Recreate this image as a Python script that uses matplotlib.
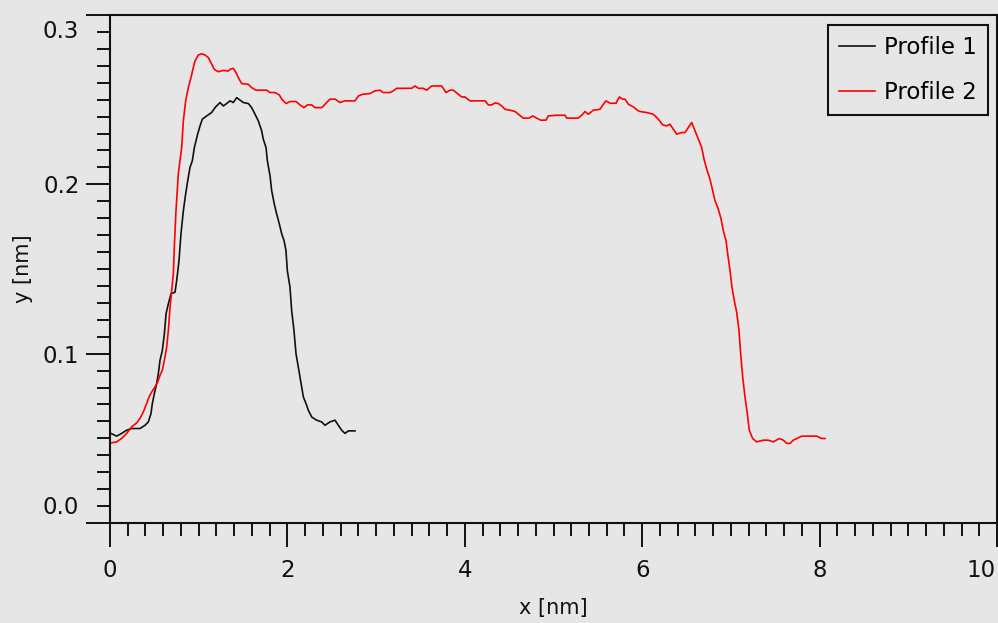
import matplotlib
matplotlib.use("Agg")
import matplotlib.pyplot as plt
from matplotlib.ticker import FixedLocator, MultipleLocator, FixedFormatter
from matplotlib.transforms import offset_copy

# ---- data ----
p1_x = [0.011, 0.075, 0.131, 0.188, 0.244, 0.338, 0.395, 0.432, 0.462, 0.477, 0.500, 0.526,
        0.545, 0.564, 0.590, 0.613, 0.632, 0.658, 0.688, 0.733, 0.752, 0.778, 0.800, 0.827,
        0.853, 0.876, 0.902, 0.928, 0.951, 0.988, 1.015, 1.041, 1.090, 1.146, 1.184, 1.240,
        1.278, 1.315, 1.353, 1.390, 1.428, 1.503, 1.560, 1.597, 1.635, 1.672, 1.710, 1.728,
        1.759, 1.774, 1.804, 1.823, 1.852, 1.879, 1.909, 1.936, 1.962, 1.984, 1.999, 2.029,
        2.048, 2.074, 2.097, 2.123, 2.142, 2.161, 2.180, 2.210, 2.236, 2.274, 2.330, 2.387,
        2.424, 2.480, 2.537, 2.574, 2.612, 2.649, 2.687, 2.762]
p1_y = [0.0529, 0.0513, 0.0529, 0.0548, 0.0558, 0.0558, 0.0577, 0.0597, 0.0646, 0.0705, 0.0764, 0.0823,
        0.0882, 0.0961, 0.1019, 0.1118, 0.1236, 0.1295, 0.1354, 0.1363, 0.1432, 0.1550, 0.1707, 0.1844,
        0.1943, 0.2021, 0.2100, 0.2139, 0.2217, 0.2296, 0.2345, 0.2385, 0.2404, 0.2424, 0.2453, 0.2483,
        0.2463, 0.2477, 0.2493, 0.2483, 0.2512, 0.2483, 0.2477, 0.2453, 0.2414, 0.2375, 0.2316, 0.2267,
        0.2217, 0.2139, 0.2051, 0.1962, 0.1884, 0.1825, 0.1766, 0.1707, 0.1668, 0.1609, 0.1491, 0.1393,
        0.1255, 0.1137, 0.1000, 0.0921, 0.0862, 0.0803, 0.0744, 0.0705, 0.0666, 0.0626, 0.0607, 0.0597,
        0.0577, 0.0597, 0.0607, 0.0577, 0.0548, 0.0529, 0.0544, 0.0544]

p2_x = [0.011, 0.075, 0.131, 0.188, 0.244, 0.301, 0.338, 0.376, 0.413, 0.440, 0.470, 0.507,
        0.537, 0.564, 0.590, 0.613, 0.639, 0.658, 0.677, 0.695, 0.714, 0.725, 0.744, 0.770,
        0.808, 0.827, 0.853, 0.883, 0.913, 0.939, 0.958, 0.996, 1.034, 1.071, 1.109, 1.139,
        1.176, 1.221, 1.278, 1.334,
        1.353, 1.390, 1.421, 1.447, 1.484, 1.560, 1.597, 1.646, 1.766, 1.804, 1.860, 1.909,
        1.936, 1.984, 2.029, 2.097, 2.142, 2.187, 2.225, 2.274, 2.311, 2.387, 2.443, 2.480,
        2.537, 2.593, 2.649, 2.762, 2.800, 2.849, 2.931, 2.988, 3.044, 3.081, 3.157, 3.194,
        3.232, 3.401, 3.439, 3.476, 3.532, 3.570, 3.627, 3.740, 3.788, 3.833, 3.870, 3.927,
        3.965, 4.002, 4.059, 4.171,
        4.228, 4.265, 4.303, 4.340, 4.378, 4.416, 4.453, 4.510, 4.566, 4.603, 4.660, 4.727,
        4.765, 4.810, 4.855, 4.915, 4.941, 5.036, 5.130, 5.149, 5.280, 5.318, 5.355, 5.393,
        5.449, 5.524, 5.562, 5.592, 5.637, 5.705, 5.742, 5.780, 5.806, 5.844, 5.900, 5.956,
        5.975, 6.051, 6.125, 6.182, 6.231, 6.276, 6.313, 6.351, 6.389, 6.445, 6.482, 6.520,
        6.558, 6.595, 6.633, 6.671, 6.697, 6.727, 6.764, 6.795, 6.821, 6.858, 6.889, 6.914,
        6.945, 6.964, 6.990, 7.012, 7.038, 7.065, 7.091, 7.110, 7.133, 7.159, 7.185, 7.207,
        7.245, 7.290, 7.365, 7.422, 7.478, 7.546, 7.591, 7.629, 7.666, 7.703, 7.742, 7.798,
        7.967, 8.023, 8.061]
p2_y = [0.0473, 0.0479, 0.0499, 0.0529, 0.0568, 0.0591, 0.0617, 0.0656, 0.0705, 0.0744, 0.0774, 0.0803,
        0.0833, 0.0872, 0.0902, 0.0961, 0.1039, 0.1137, 0.1275, 0.1373, 0.1471, 0.1628, 0.1844, 0.2061,
        0.2217, 0.2375, 0.2493, 0.2571, 0.2630, 0.2689, 0.2728, 0.2764, 0.2771, 0.2764, 0.2748, 0.2718,
        0.2679, 0.2665, 0.2673, 0.2669,
        0.2679, 0.2685, 0.2660, 0.2630, 0.2595, 0.2591, 0.2571, 0.2556, 0.2556, 0.2542, 0.2542, 0.2528,
        0.2503, 0.2477, 0.2489, 0.2489, 0.2469, 0.2453, 0.2469, 0.2469, 0.2453, 0.2453, 0.2483, 0.2503,
        0.2503, 0.2483, 0.2493, 0.2493, 0.2522, 0.2532, 0.2536, 0.2552, 0.2556, 0.2542, 0.2542, 0.2552,
        0.2567, 0.2567, 0.2581, 0.2567, 0.2567, 0.2556, 0.2581, 0.2581, 0.2542, 0.2556, 0.2556, 0.2532,
        0.2516, 0.2516, 0.2493, 0.2493,
        0.2493, 0.2469, 0.2469, 0.2481, 0.2477, 0.2463, 0.2443, 0.2438, 0.2430, 0.2414, 0.2391, 0.2391,
        0.2404, 0.2391, 0.2379, 0.2379, 0.2404, 0.2408, 0.2408, 0.2391, 0.2391, 0.2408, 0.2430, 0.2414,
        0.2438, 0.2443, 0.2473, 0.2493, 0.2479, 0.2479, 0.2516, 0.2503, 0.2503, 0.2473, 0.2457, 0.2434,
        0.2430, 0.2424, 0.2414, 0.2385, 0.2351, 0.2345, 0.2355, 0.2326, 0.2296, 0.2306, 0.2306, 0.2335,
        0.2365, 0.2316, 0.2267, 0.2217, 0.2149, 0.2090, 0.2031, 0.1962, 0.1903, 0.1854, 0.1796, 0.1727,
        0.1668, 0.1589, 0.1491, 0.1393, 0.1314, 0.1245, 0.1137, 0.1000, 0.0862, 0.0744, 0.0646, 0.0548,
        0.0499, 0.0479, 0.0489, 0.0489, 0.0479, 0.0499, 0.0489, 0.0470, 0.0470, 0.0489, 0.0499, 0.0513,
        0.0513, 0.0499, 0.0499]

series_labels = ["Profile 1", "Profile 2"]
x_ticks = [0, 2, 4, 6, 8, 10]
x_ticklabels = ["0", "2", "4", "6", "8", "10"]
y_ticks = [0.0, 0.1, 0.2, 0.3]
y_ticklabels = ["0.0", "0.1", "0.2", "0.3"]
x_label = "x [nm]"
y_label = "y [nm]"

# ---- figure ----
W, H, DPI = 998, 623, 100
BG = "#e6e6e6"
FS = 16.5      # tick labels / legend
FS_LAB = 15    # axis titles
INK = "#111111"
plt.rcParams["font.family"] = ["DejaVu Sans"]

fig = plt.figure(figsize=(W / DPI, H / DPI), dpi=DPI, facecolor=BG)
L, R, T, B = 110, 997, 15, 523
ax = fig.add_axes([L / W, 1 - B / H, (R - L) / W, (B - T) / H], facecolor=BG)

ax.plot(p1_x, p1_y, color="#111111", lw=1.2, label=series_labels[0])
ax.plot(p2_x, p2_y, color="#ff0000", lw=1.2, label=series_labels[1])

ax.set_xlim(0, 10)
ax.set_ylim(0, 0.3)

for s in ax.spines.values():
    s.set_linewidth(1.5)
    s.set_color(INK)

ax.xaxis.set_major_locator(FixedLocator(x_ticks))
ax.xaxis.set_minor_locator(MultipleLocator(0.2))
ax.yaxis.set_major_locator(FixedLocator(y_ticks))
ax.yaxis.set_minor_locator(MultipleLocator(0.01))

# end labels are drawn separately (shifted inward like the original software)
ax.xaxis.set_major_formatter(FixedFormatter(x_ticklabels[:-1] + [""]))
ax.yaxis.set_major_formatter(FixedFormatter([""] + y_ticklabels[1:-1] + [""]))

ax.tick_params(which="major", direction="out", length=17, width=1.4, color=INK,
               labelsize=FS, labelcolor=INK)
ax.tick_params(which="minor", direction="out", length=9.5, width=1.4, color=INK)
ax.tick_params(axis="x", which="major", pad=9)
ax.tick_params(axis="y", which="major", pad=5)

ytr = ax.get_yaxis_transform()
xtr = ax.get_xaxis_transform()
ax.text(0, y_ticks[0], y_ticklabels[0], transform=offset_copy(ytr, fig, x=-31, y=16, units="dots"),
        ha="right", va="center", fontsize=FS, color=INK)
ax.text(0, y_ticks[-1], y_ticklabels[-1], transform=offset_copy(ytr, fig, x=-31, y=-17, units="dots"),
        ha="right", va="center", fontsize=FS, color=INK)
ax.text(x_ticks[-1], 0, x_ticklabels[-1], transform=offset_copy(xtr, fig, x=-16, y=-36, units="dots"),
        ha="center", va="top", fontsize=FS, color=INK)

ax.set_xlabel(x_label, fontsize=FS_LAB, color=INK, va="center")
ax.set_ylabel(y_label, fontsize=FS_LAB, color=INK, va="center")
ax.xaxis.set_label_coords(0.5, (B - 608) / (B - T))
ax.yaxis.set_label_coords((23 - L) / (R - L), 0.5)

leg = ax.legend(loc="upper right", bbox_to_anchor=((988 - L) / (R - L), (B - 25) / (B - T)),
                fontsize=FS, frameon=True, fancybox=False, facecolor=BG, edgecolor=INK,
                framealpha=1, handlelength=1.53, handletextpad=0.4, borderpad=0.5,
                labelspacing=0.92, borderaxespad=0)
leg.get_frame().set_linewidth(1.5)

fig.savefig("out.png", dpi=DPI, facecolor=BG)
